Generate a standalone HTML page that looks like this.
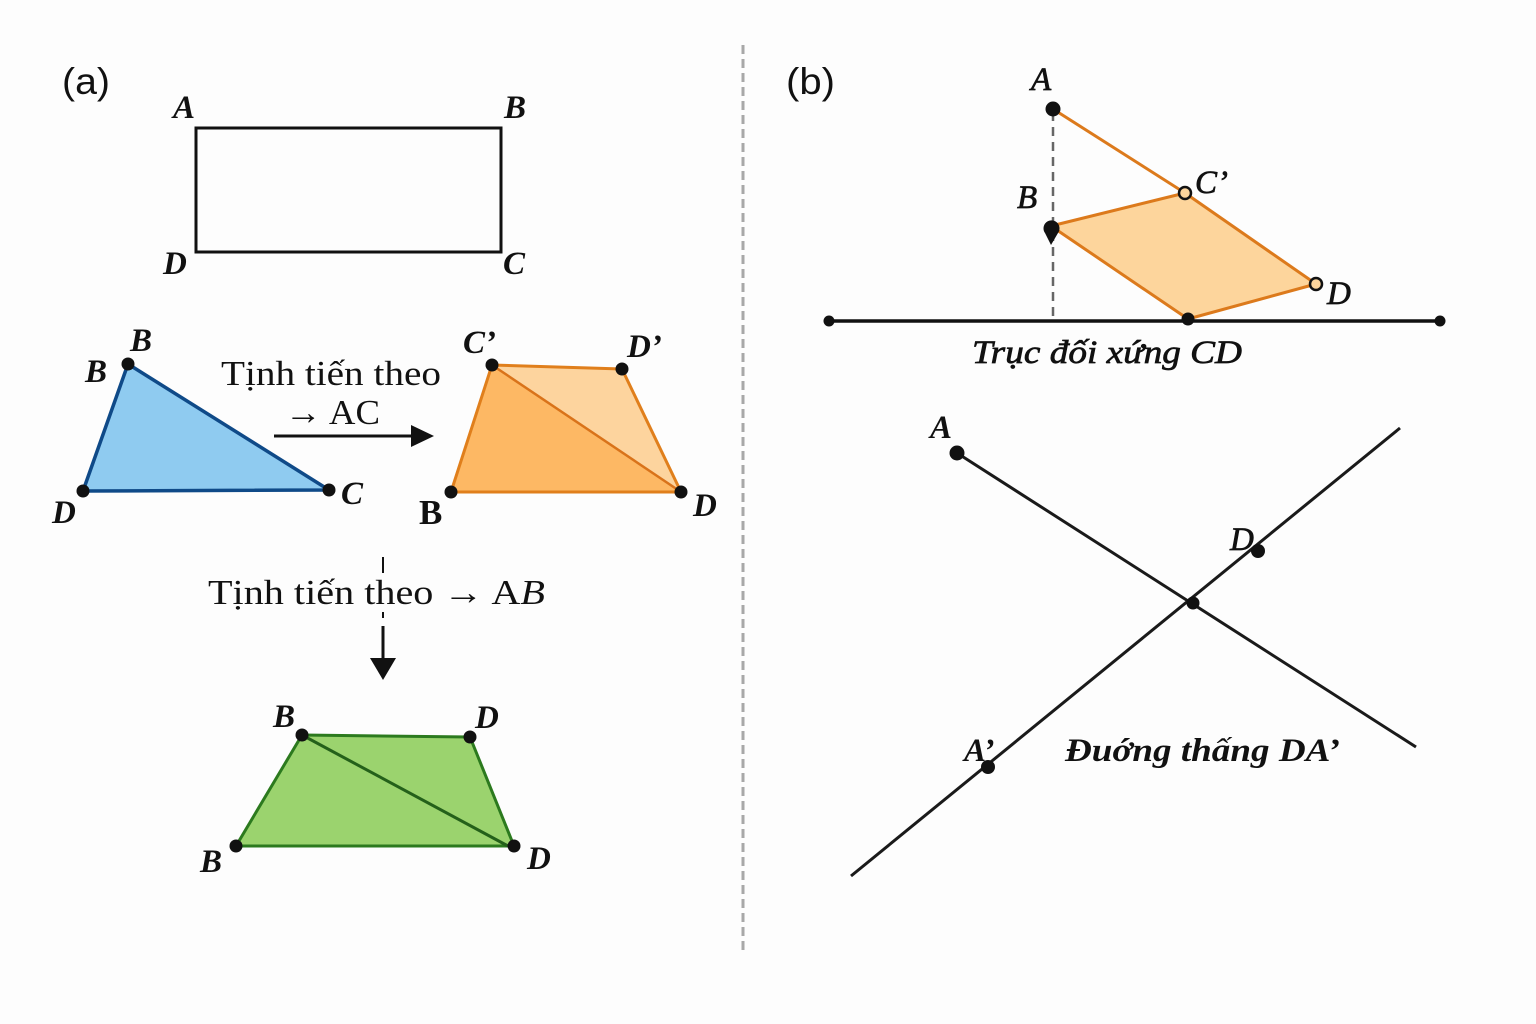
<!DOCTYPE html>
<html><head><meta charset="utf-8"><style>
html,body{margin:0;padding:0;background:#fdfdfd;}
svg{display:block;}
.lbl{font-family:"Liberation Serif",serif;font-style:italic;font-weight:bold;font-size:33px;fill:#111;}
.med{font-family:"Liberation Serif",serif;font-style:italic;font-size:33px;fill:#111;stroke:#111;stroke-width:0.7;}
.txt{font-family:"Liberation Serif",serif;font-size:35px;fill:#111;}
.sans{font-family:"Liberation Sans",sans-serif;font-size:37px;fill:#111;}
</style></head><body>
<svg width="1536" height="1024" viewBox="0 0 1536 1024" xmlns="http://www.w3.org/2000/svg">
<rect width="1536" height="1024" fill="#fdfdfd"/>
<!-- divider -->
<line x1="743" y1="45" x2="743" y2="955" stroke="#a8a8a8" stroke-width="3" stroke-dasharray="9 5"/>

<!-- (a) -->
<text x="62" y="94" class="sans" textLength="48" lengthAdjust="spacingAndGlyphs">(a)</text>
<rect x="196" y="128" width="305" height="124" fill="none" stroke="#111" stroke-width="3"/>
<text x="173" y="118" class="lbl">A</text>
<text x="504" y="118" class="lbl">B</text>
<text x="163" y="274" class="lbl">D</text>
<text x="503" y="274" class="lbl">C</text>

<!-- blue triangle -->
<polygon points="128,364 329,490 83,491" fill="#8fcbf0" stroke="#0f4a88" stroke-width="3.5" stroke-linejoin="round"/>
<circle cx="128" cy="364" r="6.5" fill="#111"/>
<circle cx="329" cy="490" r="6.5" fill="#111"/>
<circle cx="83" cy="491" r="6.5" fill="#111"/>
<text x="130" y="351" class="lbl">B</text>
<text x="85" y="382" class="lbl">B</text>
<text x="52" y="523" class="lbl">D</text>
<text x="341" y="504" class="lbl">C</text>

<text x="221" y="385" class="txt" textLength="220" lengthAdjust="spacingAndGlyphs">Tịnh tiến theo</text>
<text x="285" y="424" class="txt" textLength="95" lengthAdjust="spacingAndGlyphs">→ AC</text>
<line x1="274" y1="436" x2="416" y2="436" stroke="#111" stroke-width="3"/>
<polygon points="434,436 411,425 411,447" fill="#111"/>

<!-- orange quad -->
<polygon points="492,365 681,492 451,492" fill="#fdb864"/>
<polygon points="492,365 622,369 681,492" fill="#fdd49e"/>
<polygon points="492,365 622,369 681,492 451,492" fill="none" stroke="#e07f1c" stroke-width="3" stroke-linejoin="round"/>
<line x1="492" y1="365" x2="681" y2="492" stroke="#d9731a" stroke-width="2.5"/>
<circle cx="492" cy="365" r="6.5" fill="#111"/>
<circle cx="622" cy="369" r="6.5" fill="#111"/>
<circle cx="681" cy="492" r="6.5" fill="#111"/>
<circle cx="451" cy="492" r="6.5" fill="#111"/>
<text x="463" y="353" class="lbl">C’</text>
<text x="627" y="357" class="lbl">D’</text>
<text x="419" y="524" class="txt" style="font-weight:bold">B</text>
<text x="693" y="516" class="lbl">D</text>

<!-- second arrow -->
<text x="208" y="604" class="txt" textLength="337" lengthAdjust="spacingAndGlyphs">Tịnh tiến theo → A<tspan font-style="italic">B</tspan></text>
<line x1="383" y1="557" x2="383" y2="573" stroke="#111" stroke-width="2"/>
<line x1="383" y1="612" x2="383" y2="618" stroke="#111" stroke-width="2"/>
<line x1="383" y1="626" x2="383" y2="662" stroke="#111" stroke-width="3"/>
<polygon points="383,680 370,658 396,658" fill="#111"/>

<!-- green quad -->
<polygon points="302,735 470,737 514,846 236,846" fill="#9bd36e" stroke="#2c7a1e" stroke-width="3" stroke-linejoin="round"/>
<line x1="302" y1="735" x2="508" y2="846" stroke="#24601a" stroke-width="3"/>
<circle cx="302" cy="735" r="6.5" fill="#111"/>
<circle cx="470" cy="737" r="6.5" fill="#111"/>
<circle cx="514" cy="846" r="6.5" fill="#111"/>
<circle cx="236" cy="846" r="6.5" fill="#111"/>
<text x="273" y="727" class="lbl">B</text>
<text x="475" y="728" class="lbl">D</text>
<text x="200" y="872" class="lbl">B</text>
<text x="527" y="869" class="lbl">D</text>

<!-- (b) -->
<text x="786" y="94" class="sans" textLength="49" lengthAdjust="spacingAndGlyphs">(b)</text>

<line x1="1053" y1="112" x2="1053" y2="320" stroke="#666" stroke-width="2.5" stroke-dasharray="9 6"/>
<polygon points="1051,226 1185,193 1316,284 1188,319" fill="#fdd59c"/>
<line x1="1053" y1="109" x2="1185" y2="193" stroke="#dc7a1c" stroke-width="3"/>
<polygon points="1051,226 1185,193 1316,284 1188,319" fill="none" stroke="#dc7a1c" stroke-width="3" stroke-linejoin="round"/>
<line x1="829" y1="321" x2="1440" y2="321" stroke="#111" stroke-width="3.5"/>
<circle cx="829" cy="321" r="5.5" fill="#111"/>
<circle cx="1440" cy="321" r="5.5" fill="#111"/>
<circle cx="1188" cy="319" r="6.5" fill="#111"/>
<circle cx="1053" cy="109" r="7.5" fill="#111"/>
<path d="M1051,245 L1045,233 A8,8 0 1 1 1058,233 Z" fill="#111"/>
<circle cx="1185" cy="193" r="6" fill="#fdd59c" stroke="#111" stroke-width="2.5"/>
<circle cx="1316" cy="284" r="6" fill="#fdd59c" stroke="#111" stroke-width="2.5"/>
<text x="1031" y="90" class="med">A</text>
<text x="1017" y="208" class="med">B</text>
<text x="1195" y="193" class="med">C’</text>
<text x="1327" y="304" class="med">D</text>
<text x="972" y="363" class="med" textLength="270" lengthAdjust="spacingAndGlyphs">Trục đối xứng CD</text>

<!-- lines -->
<line x1="957" y1="453" x2="1416" y2="747" stroke="#1a1a1a" stroke-width="3"/>
<line x1="851" y1="876" x2="1400" y2="428" stroke="#1a1a1a" stroke-width="3"/>
<circle cx="957" cy="453" r="7.5" fill="#111"/>
<circle cx="1193" cy="603" r="6.5" fill="#111"/>
<circle cx="1258" cy="551" r="7" fill="#111"/>
<circle cx="988" cy="767" r="7" fill="#111"/>
<text x="930" y="438" class="lbl">A</text>
<text x="1230" y="550" class="med">D</text>
<text x="964" y="761" class="lbl">A’</text>
<text x="1065" y="761" class="lbl" textLength="275" lengthAdjust="spacingAndGlyphs">Đuớng thấng DA’</text>
</svg>
</body></html>
